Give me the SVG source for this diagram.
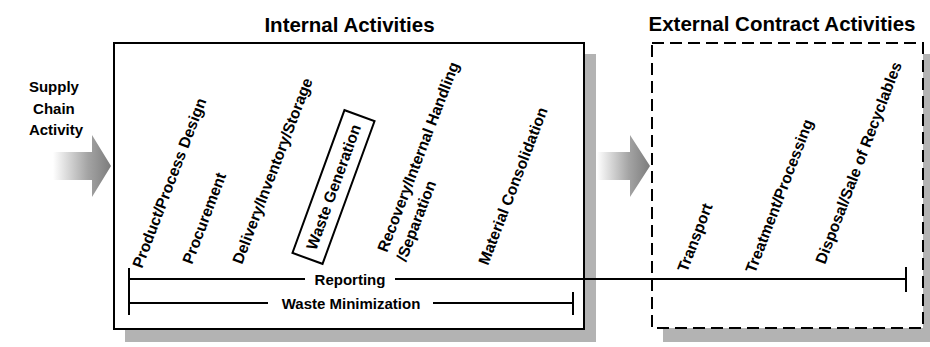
<svg xmlns="http://www.w3.org/2000/svg" width="930" height="347" viewBox="0 0 930 347">
  <style>
    .title { font-family: "Liberation Sans", Arial, sans-serif; font-weight: bold; font-size: 20.5px; fill: #000; }
    .lbl { font-family: "Liberation Sans", Arial, sans-serif; font-weight: bold; font-size: 15px; fill: #000; }
    .act { font-family: "Liberation Sans", Arial, sans-serif; font-weight: bold; font-size: 15.6px; fill: #000; }
    .shadow { fill: #b3b3b3; }
    .box { fill: #fff; stroke: #000; stroke-width: 2; }
    .dashed { fill: #fff; stroke: #000; stroke-width: 2; stroke-dasharray: 12 6; }
    .line { stroke: #000; stroke-width: 2; fill: none; }
  </style>
  <defs>
    <linearGradient id="flow" x1="0" y1="0" x2="1" y2="0">
      <stop offset="0" stop-color="#ffffff"/>
      <stop offset="0.6" stop-color="#a4a4a4"/>
      <stop offset="1" stop-color="#7c7c7c"/>
    </linearGradient>
  </defs>

  <!-- section titles -->
  <text class="title" x="349.5" y="32" text-anchor="middle">Internal Activities</text>
  <text class="title" x="782" y="31" text-anchor="middle">External Contract Activities</text>

  <!-- supply chain input -->
  <g id="supply-chain">
    <text class="lbl" text-anchor="middle">
      <tspan x="56" y="92">Supply</tspan>
      <tspan x="56" y="114">Chain</tspan>
      <tspan x="56" y="135">Activity</tspan>
    </text>
    <path d="M53,152 H92 V135 L111,166 L92,197 V180 H53 Z" fill="url(#flow)"/>
  </g>

  <!-- internal activities panel -->
  <g id="internal">
    <rect class="shadow" x="125" y="54" width="471" height="288"/>
    <rect class="box" x="114" y="43" width="470" height="286"/>
  </g>

  <!-- external contract panel -->
  <g id="external">
    <rect class="shadow" x="663" y="54" width="270" height="288"/>
    <rect class="dashed" x="652" y="43" width="271" height="285"/>
  </g>

  <!-- hand-off arrow between panels -->
  <g id="handoff">
    <path d="M597,152 H630 V135 L650,166 L630,197 V180 H597 Z" fill="url(#flow)"/>
  </g>

  <!-- activity labels -->
  <g id="product-design"><text class="act" transform="translate(142,269) rotate(-69)">Product/Process Design</text></g>
  <g id="procurement"><text class="act" transform="translate(192,265) rotate(-69)">Procurement</text></g>
  <g id="delivery"><text class="act" transform="translate(242,265) rotate(-69)">Delivery/Inventory/Storage</text></g>
  <g id="waste-generation">
    <g transform="translate(333.5,187) rotate(-70)">
      <rect x="-76" y="-16" width="152" height="32" fill="none" stroke="#000" stroke-width="2"/>
      <text class="act" x="0" y="5.5" text-anchor="middle">Waste Generation</text>
    </g>
  </g>
  <g id="recovery">
    <text class="act" transform="translate(387,253) rotate(-69)">
      <tspan x="0" y="0">Recovery/Internal Handling</tspan>
      <tspan x="-2" y="21">/Separation</tspan>
    </text>
  </g>
  <g id="consolidation"><text class="act" transform="translate(488,266) rotate(-69)">Material Consolidation</text></g>
  <g id="transport"><text class="act" transform="translate(687,273) rotate(-69)">Transport</text></g>
  <g id="treatment"><text class="act" transform="translate(755,274) rotate(-69)">Treatment/Processing</text></g>
  <g id="disposal"><text class="act" transform="translate(825,265) rotate(-69)">Disposal/Sale of Recyclables</text></g>

  <!-- spanning brackets -->
  <g id="connectors">
    <line class="line" x1="129" y1="268" x2="129" y2="315"/>
    <line class="line" x1="129" y1="279" x2="305" y2="279"/>
    <line class="line" x1="395" y1="279" x2="906" y2="279"/>
    <line class="line" x1="906" y1="267" x2="906" y2="292"/>
    <line class="line" x1="129" y1="303" x2="268" y2="303"/>
    <line class="line" x1="433" y1="303" x2="573" y2="303"/>
    <line class="line" x1="573" y1="292" x2="573" y2="315"/>
  </g>
  <text class="lbl" x="350" y="285" text-anchor="middle">Reporting</text>
  <text class="lbl" x="351" y="309" text-anchor="middle">Waste Minimization</text>
</svg>
